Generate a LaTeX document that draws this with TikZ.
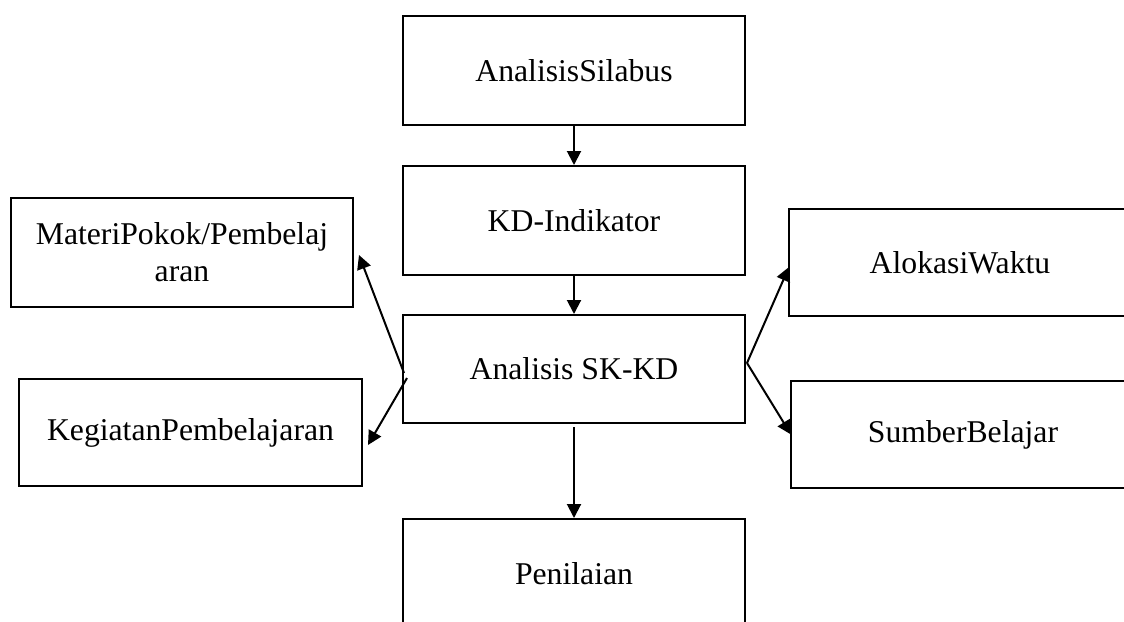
\documentclass[tikz,border=0pt]{standalone}
\usepackage{fontspec}
\setmainfont{Liberation Serif}
\usetikzlibrary{arrows.meta}
\begin{document}
\begin{tikzpicture}[x=1pt,y=-1pt,
  box/.style={draw, line width=2pt, rectangle, inner sep=0pt, align=center,
    font=\fontsize{31.7}{37}\selectfont},
  conn/.style={line width=2pt, -{Triangle[length=14pt,width=14pt]}}]
\useasboundingbox (0,0) rectangle (1124,621);
\clip (0,0) rectangle (1124,621);
\fill[white] (0,0) rectangle (1124,621);
\node[box, minimum width=342pt, minimum height=109pt] (sil) at (574,70.5) {AnalisisSilabus};
\node[box, minimum width=342pt, minimum height=109pt] (kd) at (574,220.5) {KD-Indikator};
\node[box, minimum width=342pt, minimum height=108pt] (sk) at (574,369) {Analisis SK-KD};
\node[box, minimum width=342pt, minimum height=109pt] (pen) at (574,573.5) {Penilaian};
\node[box, minimum width=342pt, minimum height=109pt] (mat) at (182,252.5) {MateriPokok/Pembelaj\\aran};
\node[box, minimum width=343pt, minimum height=107pt] (keg) at (190.5,432.5) {KegiatanPembelajaran};
\node[box, minimum width=342pt, minimum height=107pt] (alo) at (960,262.5) {AlokasiWaktu};
\node[box, minimum width=344pt, minimum height=107pt] (sum) at (963,434.5) {SumberBelajar};
\draw[conn] (sil.south) -- (kd.north);
\draw[conn] (kd.south) -- (sk.north);
\draw[conn] ([yshift=-3pt]sk.south) -- (pen.north);
\draw[conn] ([xshift=2pt,yshift=-4pt]sk.west) -- ([xshift=5pt,yshift=-2.5pt]mat.east);
\draw[conn] ([xshift=5pt,yshift=-9pt]sk.west) -- ([xshift=5pt,yshift=-12.5pt]keg.east);
\draw[conn] ([xshift=1pt,yshift=6pt]sk.east) -- ([xshift=1pt,yshift=-4.5pt]alo.west);
\draw[conn] ([xshift=1pt,yshift=6pt]sk.east) -- ([xshift=1pt]sum.west);
\end{tikzpicture}
\end{document}
